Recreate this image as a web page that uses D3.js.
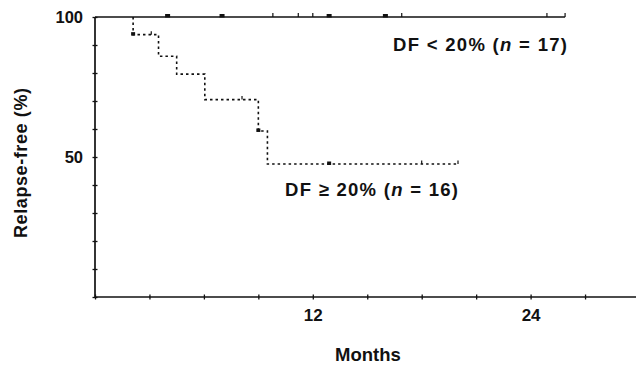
<!DOCTYPE html>
<html><head><meta charset="utf-8">
<script src="https://cdn.jsdelivr.net/npm/d3@7"></script>
<style>
html,body{margin:0;padding:0;background:#fff;}
svg{display:block;}
text{font-family:"Liberation Sans",Arial,Helvetica,sans-serif;fill:#111;}
</style></head>
<body>
<svg id="chart" width="636" height="367"></svg>
<script>
// ---- data ----
const xTicks = [0,3,6,9,12,15,18,21,24,27];
const xTickLabels = ["","","","","12","","","","24",""];
const yTicks = [0,10,20,30,40,50,60,70,80,90,100];
const yTickLabels = ["","","","","","50","","","","","100"];

// DF < 20% (n = 17): no events
const lowTimes = [0, 25.9];
const lowSurv  = [100, 100];
const lowCensorSquare = [4.0, 7.0, 12.9, 16.0];
const lowCensorTick   = [9.8, 11.2, 12.0, 16.9, 24.9, 25.9];

// DF >= 20% (n = 16): step curve
const highTimes = [2.1, 2.1, 3.5, 4.5, 6.05, 9.0, 9.5, 20.0];
const highSurv  = [100, 93.7, 86, 79.6, 70.5, 59.3, 47.5, 47.5];
const highCensorSquareT = [2.1, 9.0, 12.9];
const highCensorSquareS = [93.7, 59.3, 47.5];
const highCensorTickT = [3.1, 8.1, 18.0, 20.0];
const highCensorTickS = [93.7, 70.5, 47.5, 47.5];

const labelLow = ["DF < 20% (", "n", " = 17)"];
const labelHigh = ["DF ≥ 20% (", "n", " = 16)"];

// ---- drawing ----
const svg = d3.select("#chart");
const x = d3.scaleLinear().domain([0, 30]).range([95, 639.5]);
const y = d3.scaleLinear().domain([0, 100]).range([297, 17]);
const FONT = '"Liberation Sans",Arial,sans-serif';

// y axis
const yAx = svg.append("g").attr("transform", `translate(${x(0)},0)`)
  .call(d3.axisLeft(y).tickValues(yTicks).tickSize(3)
        .tickFormat((d,i) => yTickLabels[i]));
yAx.select(".domain").attr("d", `M0,${y(0)}V${y(100)}`).attr("stroke","#111").attr("stroke-width",1.7);
yAx.selectAll(".tick line").attr("x1",2.5).attr("x2",-2.5).attr("stroke","#111").attr("stroke-width",1.3);
yAx.selectAll(".tick text").attr("x",-12).attr("dy","0.35em")
  .style("font-size","16.5px").style("font-weight","bold").style("font-family",FONT).attr("fill","#111");

// x axis
const xAx = svg.append("g").attr("transform", `translate(0,${y(0)})`)
  .call(d3.axisBottom(x).tickValues(xTicks).tickSize(3)
        .tickFormat((d,i) => xTickLabels[i]));
xAx.select(".domain").attr("d", `M${x(0)},0H636`).attr("stroke","#111").attr("stroke-width",1.7);
xAx.selectAll(".tick line").attr("y1",-2.5).attr("y2",2.5).attr("stroke","#111").attr("stroke-width",1.3);
xAx.selectAll(".tick text").attr("y",12).attr("dy","0.71em")
  .style("font-size","17px").style("font-weight","bold").style("font-family",FONT).attr("fill","#111");

// curves
const stepLine = d3.line().x(d => x(d[0])).y(d => y(d[1])).curve(d3.curveStepAfter);
svg.append("path").datum(lowTimes.map((t,i)=>[t, lowSurv[i]]))
  .attr("d", stepLine).attr("fill","none").attr("stroke","#111").attr("stroke-width",1.7);
svg.append("path").datum(highTimes.map((t,i)=>[t, highSurv[i]]))
  .attr("d", stepLine).attr("fill","none").attr("stroke","#111").attr("stroke-width",1.6)
  .attr("stroke-dasharray","2.5,3");

// censor marks
svg.selectAll(".lsq").data(lowCensorSquare).join("rect")
  .attr("x", d => x(d)-2.5).attr("y", y(100)-3).attr("width",5).attr("height",3.5).attr("fill","#111");
svg.selectAll(".ltk").data(lowCensorTick).join("line")
  .attr("x1", d => x(d)).attr("x2", d => x(d)).attr("y1", y(100)-4).attr("y2", y(100))
  .attr("stroke","#111").attr("stroke-width",1.2);
svg.selectAll(".hsq").data(highCensorSquareT).join("rect")
  .attr("x", d => x(d)-2).attr("y", (d,i) => y(highCensorSquareS[i])-2.5).attr("width",4).attr("height",3.5).attr("fill","#111");
svg.selectAll(".htk").data(highCensorTickT).join("line")
  .attr("x1", d => x(d)).attr("x2", d => x(d))
  .attr("y1", (d,i) => y(highCensorTickS[i])-3.5).attr("y2", (d,i) => y(highCensorTickS[i]))
  .attr("stroke","#111").attr("stroke-width",1.2);

// labels
function label(parts, xp, yp, len) {
  const t = svg.append("text").attr("x", xp).attr("y", yp)
    .attr("textLength", len).attr("lengthAdjust","spacing")
    .style("font-size","18.5px").style("font-weight","bold");
  t.append("tspan").text(parts[0]);
  t.append("tspan").style("font-style","italic").text(parts[1]);
  t.append("tspan").text(parts[2]);
}
label(labelLow, 393, 51, 174);
label(labelHigh, 285, 196, 173);

svg.append("text").attr("x", 368).attr("y", 361).attr("text-anchor","middle")
  .style("font-size","18.5px").style("font-weight","bold").text("Months");
svg.append("text").attr("transform","translate(27,163) rotate(-90)").attr("text-anchor","middle")
  .attr("textLength",150).attr("lengthAdjust","spacing")
  .style("font-size","18px").style("font-weight","bold").text("Relapse-free (%)");
</script>
</body></html>
